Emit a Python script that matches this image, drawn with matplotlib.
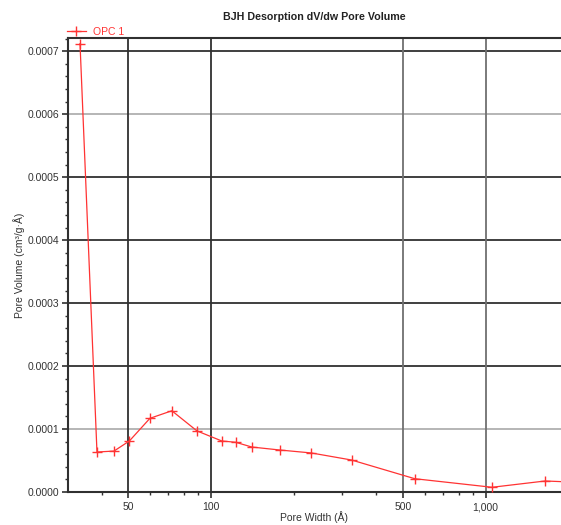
import matplotlib
matplotlib.use("Agg")
import matplotlib.pyplot as plt
from matplotlib.ticker import FixedLocator, FuncFormatter, MultipleLocator, NullFormatter

plt.rcParams['font.family'] = ['Liberation Sans', 'DejaVu Sans']

# Data
pore_width = [33.4, 38.5, 44.4, 50.5, 60.0, 72.1, 89.0, 109.6, 123.0, 141.0,
              178.0, 232.0, 325.0, 552.0, 1055.0, 1648.0, 2000.0]
pore_volume = [0.000712, 0.0000635, 0.000065, 0.000081, 0.000117, 0.000129,
               0.000097, 0.000081, 0.000079, 0.0000714, 0.0000667, 0.000062,
               0.0000508, 0.0000211, 0.0000075, 0.0000175, 0.0000160]
series_name = "OPC 1"
x_ticks = [50, 100, 500, 1000]
y_ticks = [0.0, 0.0001, 0.0002, 0.0003, 0.0004, 0.0005, 0.0006, 0.0007]
light_grid = [0.0001, 0.0006]

W, H = 561, 525
fig = plt.figure(figsize=(W / 100, H / 100), dpi=100)
ax = fig.add_axes([68 / W, 1 - 492 / H, 1 - 68 / W, (492 - 38) / H])

ax.set_xscale('log')
ax.set_xlim(30.2, 1880)
ax.set_ylim(0, 0.000721)

# grid lines
for yv in y_ticks[1:]:
    c = '#b0b0b0' if yv in light_grid else '#303030'
    ax.axhline(yv, color=c, lw=1.3, zorder=1)
for xv in x_ticks:
    c = '#303030' if xv < 300 else '#707070'
    ax.axvline(xv, color=c, lw=1.3, zorder=1)

ax.plot(pore_width, pore_volume, color='#ff3333', lw=0.9, marker='+',
        markersize=7, markeredgewidth=1.0, label=series_name, zorder=3)

ax.xaxis.set_major_locator(FixedLocator(x_ticks))
ax.xaxis.set_major_formatter(FuncFormatter(lambda v, p: f"{int(round(v)):,}"))
ax.xaxis.set_minor_locator(FixedLocator([40, 60, 70, 80, 90, 200, 300, 400,
                                         600, 700, 800, 900]))
ax.xaxis.set_minor_formatter(NullFormatter())
ax.yaxis.set_major_locator(FixedLocator(y_ticks))
ax.yaxis.set_major_formatter(FuncFormatter(lambda v, p: f"{v:.4f}"))
ax.yaxis.set_minor_locator(MultipleLocator(0.00002))

ax.tick_params(axis='both', which='major', direction='out', length=4, width=1.2,
               color='#303030', labelsize=7.5, labelcolor='#333333', pad=2)
ax.tick_params(axis='x', which='major', pad=3.5)
ax.tick_params(axis='both', which='minor', direction='out', length=2.5, width=1.0,
               color='#303030')

for s in ['left', 'bottom', 'top']:
    ax.spines[s].set_color('#303030')
    ax.spines[s].set_linewidth(1.5)
ax.spines['right'].set_visible(False)

ax.set_xlabel('Pore Width (Å)', fontsize=7.5, color='#333333', labelpad=-1)
ax.set_ylabel('Pore Volume (cm³/g·Å)', fontsize=7.5, color='#333333', labelpad=2)
ax.set_title('BJH Desorption dV/dw Pore Volume', fontsize=7.7, fontweight='bold',
             color='#222222', pad=13)

leg = ax.legend(loc='lower left', bbox_to_anchor=(-0.005, 1.0), frameon=False,
                fontsize=7.5, handlelength=1.9, handletextpad=0.6, borderaxespad=0.1,
                borderpad=0)
for t in leg.get_texts():
    t.set_color('#ff3333')

fig.savefig('out.png', dpi=100)
